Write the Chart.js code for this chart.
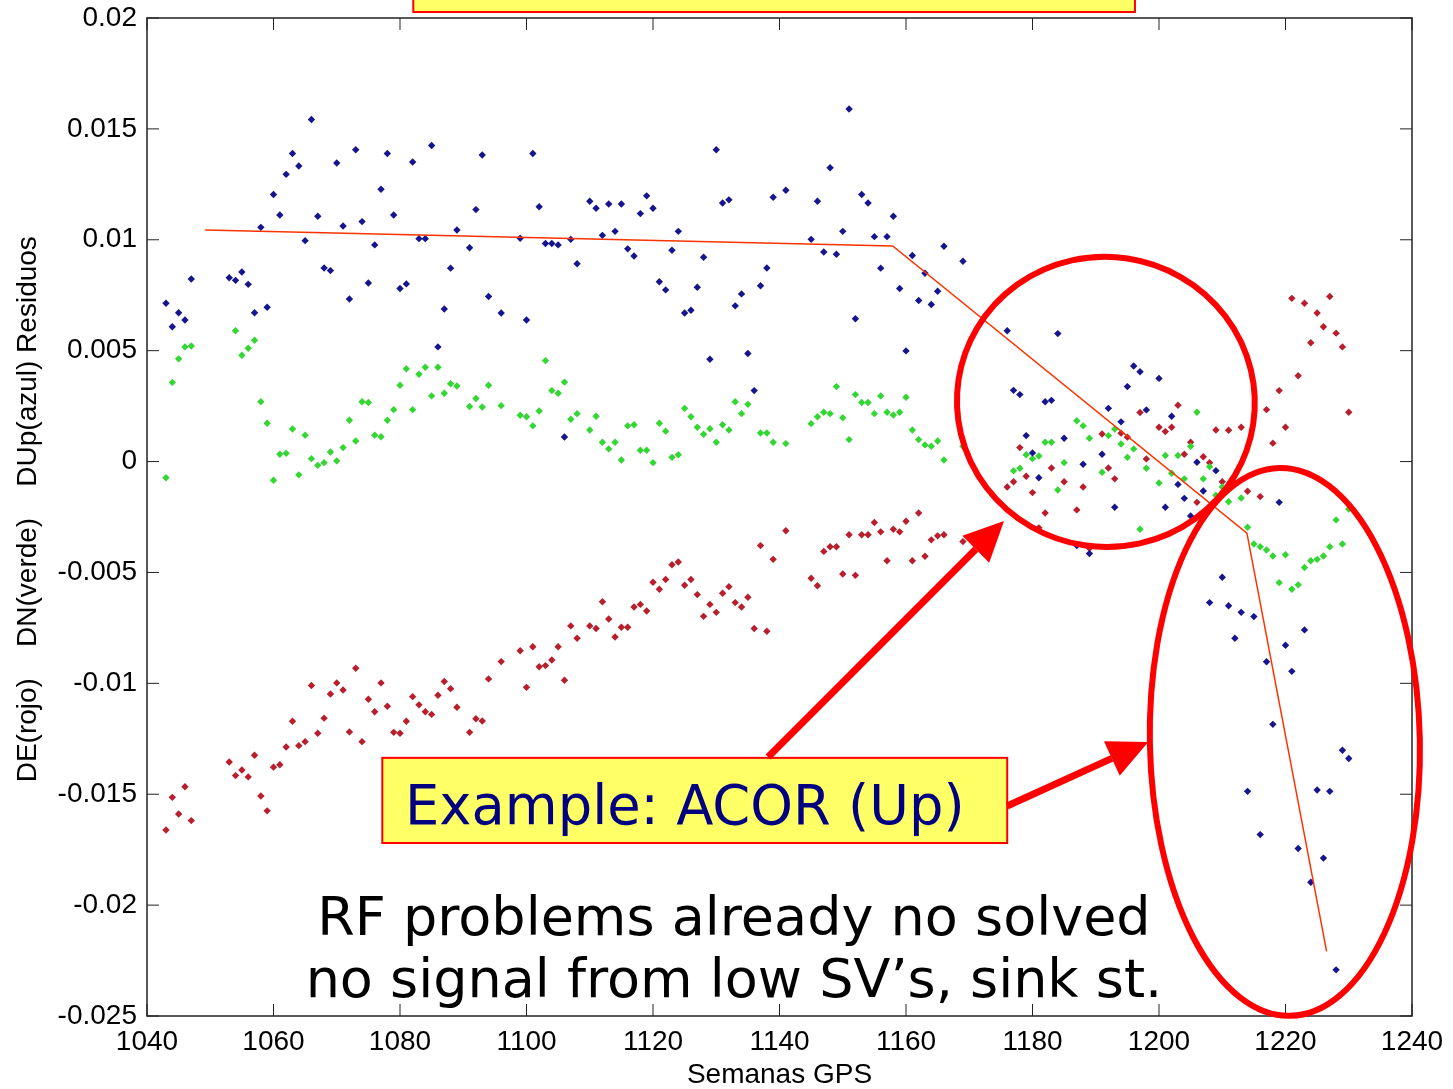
<!DOCTYPE html>
<html>
<head>
<meta charset="utf-8">
<script src="https://cdn.jsdelivr.net/npm/chart.js@4.4.0/dist/chart.umd.min.js"></script>
<style>
  html, body { margin: 0; padding: 0; background: #fff; }
  #contenedor { position: relative; width: 1453px; height: 1089px; }
</style>
</head>
<body>
<div id="contenedor"><canvas id="residuosAcor"></canvas></div>
<script>
// Residuos ACOR por semana GPS
const semanasUp = [1043,1044,1045,1046,1047,1053,1054,1055,1056,1057,1058,1059,1060,1061,1062,1063,1064,1065,1066,1067,1068,1069,1070,1071,1072,1073,1074,1075,1076,1077,1078,1079,1080,1081,1082,1083,1084,1085,1086,1087,1088,1089,1091,1092,1093,1094,1096,1099,1100,1101,1102,1103,1104,1105,1106,1107,1108,1110,1111,1112,1113,1114,1115,1116,1117,1118,1119,1120,1121,1122,1123,1124,1125,1126,1127,1128,1129,1130,1131,1132,1133,1134,1135,1136,1137,1138,1139,1141,1145,1146,1147,1148,1149,1150,1151,1152,1153,1154,1155,1156,1157,1158,1159,1160,1161,1162,1163,1164,1165,1166,1169,1176,1177,1178,1179,1180,1181,1182,1183,1184,1185,1187,1188,1189,1191,1192,1193,1194,1195,1196,1197,1198,1200,1201,1202,1203,1204,1205,1206,1207,1208,1209,1210,1211,1212,1213,1214,1215,1216,1217,1218,1219,1220,1221,1222,1223,1224,1225,1226,1227,1228,1229,1230];
const residuosUp = [0.00714,0.00608,0.00671,0.00638,0.00823,0.00829,0.00817,0.00855,0.00799,0.00671,0.01056,0.00696,0.01204,0.01112,0.01295,0.01389,0.01333,0.00996,0.01542,0.01106,0.00873,0.00861,0.01346,0.01062,0.00733,0.01406,0.01082,0.00805,0.00977,0.01228,0.01389,0.01112,0.00780,0.00801,0.01351,0.01005,0.01005,0.01425,0.00517,0.00688,0.00872,0.01044,0.00964,0.01136,0.01382,0.00744,0.00670,0.01007,0.00638,0.01389,0.01149,0.00983,0.00983,0.00977,0.00111,0.01002,0.00892,0.01174,0.01142,0.01020,0.01161,0.01038,0.01161,0.00959,0.00927,0.01118,0.01198,0.01142,0.00811,0.00774,0.00953,0.01038,0.00670,0.00682,0.00786,0.00921,0.00461,0.01406,0.01166,0.01180,0.00702,0.00756,0.00487,0.00320,0.00793,0.00873,0.01192,0.01223,0.01002,0.01174,0.00945,0.01325,0.00935,0.01038,0.01590,0.00644,0.01204,0.01166,0.01014,0.00872,0.01014,0.01106,0.00780,0.00499,0.00929,0.00726,0.00849,0.00708,0.00768,0.00971,0.00903,0.00590,0.00321,0.00302,0.00117,0.00039,-0.00073,0.00270,0.00276,0.00577,0.00105,-0.00379,-0.00012,-0.00415,0.00033,0.00240,-0.00206,0.00179,0.00338,0.00431,0.00405,0.00233,0.00375,-0.00206,0.00204,-0.00103,-0.00166,-0.00245,-0.00003,-0.00133,-0.00636,-0.00041,-0.00522,-0.00650,-0.00797,-0.00680,-0.01487,-0.00699,-0.01682,-0.00903,-0.01185,-0.00184,-0.00828,-0.00946,-0.01745,-0.00759,-0.01897,-0.01481,-0.01788,-0.01487,-0.02292,-0.01302,-0.01339];

const semanasNorte = [1043,1044,1045,1046,1047,1054,1055,1056,1057,1058,1059,1060,1061,1062,1063,1064,1065,1066,1067,1068,1069,1070,1071,1072,1073,1074,1075,1076,1077,1078,1079,1080,1081,1082,1083,1084,1085,1086,1087,1088,1089,1091,1092,1093,1094,1096,1099,1100,1101,1102,1103,1104,1105,1106,1107,1108,1110,1111,1112,1113,1114,1115,1116,1117,1118,1119,1120,1121,1122,1123,1124,1125,1126,1127,1128,1129,1130,1131,1132,1133,1134,1135,1137,1138,1139,1141,1145,1146,1147,1148,1149,1150,1151,1152,1153,1154,1155,1156,1157,1158,1159,1160,1161,1162,1163,1164,1165,1166,1169,1177,1178,1179,1180,1181,1182,1183,1184,1185,1187,1188,1189,1191,1192,1193,1194,1195,1196,1197,1198,1200,1201,1202,1203,1204,1205,1206,1207,1208,1209,1210,1211,1213,1214,1215,1216,1217,1218,1219,1220,1221,1222,1223,1224,1225,1226,1227,1228,1229,1230];
const residuosNorte = [-0.00073,0.00357,0.00463,0.00517,0.00521,0.00590,0.00479,0.00511,0.00547,0.00270,0.00173,-0.00084,0.00033,0.00037,0.00147,-0.00060,0.00119,0.00013,-0.00017,-0.00005,0.00043,0.00003,0.00063,0.00186,0.00093,0.00270,0.00266,0.00119,0.00112,0.00186,0.00234,0.00344,0.00418,0.00234,0.00394,0.00425,0.00296,0.00425,0.00308,0.00351,0.00341,0.00248,0.00284,0.00246,0.00344,0.00252,0.00209,0.00202,0.00161,0.00228,0.00455,0.00320,0.00308,0.00358,0.00191,0.00216,0.00142,0.00204,0.00087,0.00057,0.00087,0.00007,0.00161,0.00166,0.00051,0.00051,-0.00005,0.00173,0.00137,0.00019,0.00031,0.00240,0.00202,0.00155,0.00123,0.00148,0.00087,0.00166,0.00142,0.00270,0.00216,0.00258,0.00129,0.00129,0.00087,0.00081,0.00171,0.00202,0.00222,0.00216,0.00338,0.00197,0.00099,0.00302,0.00266,0.00266,0.00216,0.00296,0.00222,0.00210,0.00222,0.00290,0.00142,0.00099,0.00075,0.00069,0.00093,0.00007,0.00069,-0.00042,-0.00030,0.00031,0.00013,0.00025,0.00087,0.00087,-0.00128,-0.00005,0.00184,0.00161,0.00105,-0.00048,0.00117,0.00147,0.00079,0.00019,0.00057,-0.00305,-0.00030,-0.00097,0.00027,-0.00053,0.00027,-0.00078,0.00069,0.00222,-0.00078,-0.00023,-0.00152,-0.00115,-0.00181,-0.00164,-0.00296,-0.00372,-0.00384,-0.00399,-0.00426,-0.00546,-0.00420,-0.00576,-0.00556,-0.00478,-0.00447,-0.00441,-0.00426,-0.00384,-0.00263,-0.00372,-0.00214];

const semanasEste = [1043,1044,1045,1046,1047,1053,1054,1055,1056,1057,1058,1059,1060,1061,1062,1063,1064,1065,1066,1067,1068,1069,1070,1071,1072,1073,1074,1075,1076,1077,1078,1079,1080,1081,1082,1083,1084,1085,1086,1087,1088,1089,1091,1092,1093,1094,1096,1099,1100,1101,1102,1103,1104,1105,1106,1107,1108,1110,1111,1112,1113,1114,1115,1116,1117,1118,1119,1120,1121,1122,1123,1124,1125,1126,1127,1128,1129,1130,1131,1132,1133,1134,1135,1136,1137,1138,1139,1141,1145,1146,1147,1148,1149,1150,1151,1152,1153,1154,1155,1156,1157,1158,1159,1160,1161,1162,1163,1164,1165,1166,1169,1176,1177,1178,1179,1180,1181,1182,1183,1185,1187,1188,1189,1191,1192,1193,1194,1195,1197,1198,1200,1201,1202,1203,1204,1205,1206,1207,1208,1209,1210,1211,1212,1213,1214,1216,1217,1218,1219,1220,1221,1222,1223,1224,1225,1226,1227,1228,1229,1230];
const residuosEste = [-0.01661,-0.01514,-0.01589,-0.01466,-0.01619,-0.01355,-0.01416,-0.01391,-0.01422,-0.01324,-0.01508,-0.01575,-0.01378,-0.01367,-0.01287,-0.01171,-0.01281,-0.01263,-0.01010,-0.01225,-0.01157,-0.01048,-0.00998,-0.01030,-0.01219,-0.00932,-0.01263,-0.01072,-0.01128,-0.00998,-0.01103,-0.01221,-0.01225,-0.01171,-0.01060,-0.01097,-0.01128,-0.01140,-0.01054,-0.00992,-0.01024,-0.01108,-0.01221,-0.01160,-0.01170,-0.00980,-0.00902,-0.00853,-0.01018,-0.00835,-0.00925,-0.00920,-0.00895,-0.00835,-0.00986,-0.00741,-0.00797,-0.00741,-0.00753,-0.00632,-0.00710,-0.00791,-0.00747,-0.00747,-0.00656,-0.00644,-0.00674,-0.00544,-0.00576,-0.00532,-0.00465,-0.00453,-0.00558,-0.00532,-0.00600,-0.00698,-0.00644,-0.00680,-0.00594,-0.00564,-0.00636,-0.00656,-0.00612,-0.00753,-0.00379,-0.00765,-0.00441,-0.00312,-0.00526,-0.00560,-0.00405,-0.00384,-0.00384,-0.00507,-0.00330,-0.00513,-0.00330,-0.00330,-0.00275,-0.00317,-0.00447,-0.00305,-0.00317,-0.00269,-0.00447,-0.00232,-0.00427,-0.00353,-0.00335,-0.00330,-0.00361,-0.00115,-0.00091,0.00063,-0.00066,-0.00140,-0.00299,-0.00232,-0.00029,-0.00091,-0.00218,-0.00115,-0.00391,0.00124,-0.00029,-0.00078,0.00128,0.00110,0.00221,0.00012,0.00155,0.00135,0.00155,0.00254,0.00033,0.00087,-0.00184,0.00022,-0.00005,0.00142,-0.00091,0.00141,-0.00097,0.00155,-0.00134,-0.00158,0.00234,0.00083,0.00320,0.00155,0.00736,0.00387,0.00714,0.00536,0.00670,0.00608,0.00744,0.00579,0.00517,0.00222];

// linea de tendencia dibujada a mano en el original
const semanasTendencia = [1049.2, 1157.9, 1213.9, 1226.5];
const residuosTendencia = [0.01044, 0.00972, -0.00323, -0.02209];

const ticksX = [1040, 1060, 1080, 1100, 1120, 1140, 1160, 1180, 1200, 1220, 1240];
const ticksY = [-0.025, -0.02, -0.015, -0.01, -0.005, 0, 0.005, 0.01, 0.015, 0.02];

const textoEjemplo = 'Example: ACOR (Up)';
const textoRF = ['RF problems already no solved', 'no signal from low SV\u2019s, sink st.'];

// anotaciones en unidades de datos (semana, metros)
const anotaciones = {
  recuadroSuperior: { x0: 1082.1, x1: 1196.2, y0: 0.0216, y1: 0.02027 },
  recuadroEjemplo: { x0: 1077.2, x1: 1176.0, y0: -0.01336, y1: -0.01720 },
  ejemplo: { x: 1080.8, y: -0.01634, ancho: 560 },
  rf: { x: 1132.8, y: [-0.02134, -0.02414], ancho: 857 },
  elipses: [
    { x: 1191.6, y: 0.00269, rx: 149, ry: 145, rot: 0.15 },
    { x: 1219.9, y: -0.01264, rx: 135, ry: 274, rot: -0.02 }
  ],
  flechas: [
    { x0: 1138.2, y0: -0.01332, x1: 1175.5, y1: -0.00268 },
    { x0: 1176.0, y0: -0.01553, x1: 1198.3, y1: -0.01264 }
  ]
};

function aPuntos(xs, ys) {
  return xs.map((x, i) => ({ x: x, y: ys[i] }));
}

// marco estilo matlab: caja completa y marcas hacia dentro
const marcoMatlab = {
  id: 'marcoMatlab',
  afterDatasetsDraw(chart) {
    const { ctx, chartArea: a, scales } = chart;
    const largo = 12;
    ctx.save();
    ctx.strokeStyle = '#222';
    ctx.lineWidth = 1.5;
    ctx.strokeRect(a.left, a.top, a.right - a.left, a.bottom - a.top);
    ctx.lineWidth = 1;
    ctx.beginPath();
    ticksX.forEach(v => {
      const p = scales.x.getPixelForValue(v);
      ctx.moveTo(p, a.bottom); ctx.lineTo(p, a.bottom - largo);
      ctx.moveTo(p, a.top); ctx.lineTo(p, a.top + largo);
    });
    ticksY.forEach(v => {
      const p = scales.y.getPixelForValue(v);
      ctx.moveTo(a.left, p); ctx.lineTo(a.left + largo, p);
      ctx.moveTo(a.right, p); ctx.lineTo(a.right - largo, p);
    });
    ctx.stroke();
    ctx.restore();
  }
};

function tamanoParaAncho(ctx, texto, ancho, familia) {
  ctx.font = '100px ' + familia;
  return 100 * ancho / ctx.measureText(texto).width;
}

const notasDiapositiva = {
  id: 'notasDiapositiva',
  afterDraw(chart) {
    const { ctx, scales } = chart;
    const px = v => scales.x.getPixelForValue(v);
    const py = v => scales.y.getPixelForValue(v);
    const fam = '"DejaVu Sans", Verdana, sans-serif';
    ctx.save();

    // recuadros amarillos
    [anotaciones.recuadroSuperior, anotaciones.recuadroEjemplo].forEach(r => {
      const x0 = px(r.x0), x1 = px(r.x1), y0 = py(r.y0), y1 = py(r.y1);
      ctx.fillStyle = '#ffff66';
      ctx.fillRect(x0, y0, x1 - x0, y1 - y0);
      ctx.strokeStyle = '#ff0000';
      ctx.lineWidth = 2;
      ctx.strokeRect(x0, y0, x1 - x0, y1 - y0);
    });

    // texto del ejemplo
    const e = anotaciones.ejemplo;
    const tam1 = tamanoParaAncho(ctx, textoEjemplo, e.ancho, fam);
    ctx.font = tam1.toFixed(1) + 'px ' + fam;
    ctx.fillStyle = '#000080';
    ctx.textAlign = 'left';
    ctx.textBaseline = 'alphabetic';
    ctx.fillText(textoEjemplo, px(e.x), py(e.y));

    // texto RF
    const rf = anotaciones.rf;
    const tam2 = tamanoParaAncho(ctx, textoRF[1], rf.ancho, fam);
    ctx.font = tam2.toFixed(1) + 'px ' + fam;
    ctx.fillStyle = '#000';
    ctx.textAlign = 'center';
    textoRF.forEach((t, i) => ctx.fillText(t, px(rf.x), py(rf.y[i])));

    // elipses rojas
    ctx.strokeStyle = '#ff0000';
    ctx.lineWidth = 6;
    anotaciones.elipses.forEach(el => {
      ctx.beginPath();
      ctx.ellipse(px(el.x), py(el.y), el.rx, el.ry, el.rot, 0, Math.PI * 2);
      ctx.stroke();
    });

    // flechas rojas
    ctx.fillStyle = '#ff0000';
    anotaciones.flechas.forEach(f => {
      const xa = px(f.x0), ya = py(f.y0), xb = px(f.x1), yb = py(f.y1);
      const ang = Math.atan2(yb - ya, xb - xa);
      const cabeza = 40, mitad = 19;
      const xc = xb - cabeza * Math.cos(ang), yc = yb - cabeza * Math.sin(ang);
      ctx.lineWidth = 7;
      ctx.beginPath();
      ctx.moveTo(xa, ya);
      ctx.lineTo(xc, yc);
      ctx.stroke();
      ctx.beginPath();
      ctx.moveTo(xb, yb);
      ctx.lineTo(xc + mitad * Math.sin(ang), yc - mitad * Math.cos(ang));
      ctx.lineTo(xc - mitad * Math.sin(ang), yc + mitad * Math.cos(ang));
      ctx.closePath();
      ctx.fill();
    });
    ctx.restore();
  }
};

const fuenteEjes = { family: '"Liberation Sans", Arial, sans-serif', size: 28 };
const fuenteTitulos = { family: '"Liberation Sans", Arial, sans-serif', size: 28, lineHeight: 1 };

new Chart(document.getElementById('residuosAcor'), {
  type: 'scatter',
  data: {
    datasets: [
      {
        label: 'Tendencia',
        data: aPuntos(semanasTendencia, residuosTendencia),
        showLine: true,
        borderColor: '#ff3300',
        borderWidth: 1.5,
        pointRadius: 0,
        tension: 0
      },
      {
        label: 'DUp',
        data: aPuntos(semanasUp, residuosUp),
        pointStyle: 'rectRot',
        pointRadius: 3.7,
        borderWidth: 0,
        backgroundColor: '#15158e'
      },
      {
        label: 'DN',
        data: aPuntos(semanasNorte, residuosNorte),
        pointStyle: 'rectRot',
        pointRadius: 3.7,
        borderWidth: 0,
        backgroundColor: '#33d633'
      },
      {
        label: 'DE',
        data: aPuntos(semanasEste, residuosEste),
        pointStyle: 'rectRot',
        pointRadius: 3.7,
        borderWidth: 0,
        backgroundColor: '#b81e2c'
      }
    ]
  },
  options: {
    responsive: true,
    maintainAspectRatio: false,
    animation: false,
    events: [],
    layout: { padding: { top: 18, right: 41, left: 0, bottom: 0 } },
    plugins: {
      legend: { display: false },
      tooltip: { enabled: false }
    },
    scales: {
      x: {
        type: 'linear',
        min: 1040,
        max: 1240,
        afterBuildTicks: scale => { scale.ticks = ticksX.map(v => ({ value: v })); },
        afterFit: scale => {
          scale.height = 73;
          scale.paddingLeft = 0;
          scale.paddingRight = 0;
        },
        grid: { display: false, drawTicks: false },
        border: { display: false },
        ticks: { color: '#000', font: fuenteEjes, padding: 9, maxRotation: 0, callback: v => String(v) },
        title: {
          display: true,
          text: 'Semanas GPS',
          color: '#000',
          font: fuenteTitulos,
          padding: { top: 0, bottom: 0 }
        }
      },
      y: {
        type: 'linear',
        min: -0.025,
        max: 0.02,
        afterBuildTicks: scale => { scale.ticks = ticksY.map(v => ({ value: v })); },
        afterFit: scale => {
          scale.width = 147;
          scale.paddingTop = 0;
          scale.paddingBottom = 0;
        },
        grid: { display: false, drawTicks: false },
        border: { display: false },
        ticks: {
          color: '#000',
          font: fuenteEjes,
          padding: 10,
          callback: v => String(Math.round(v * 1000) / 1000)
        },
        title: {
          display: true,
          text: '  DE(rojo)    DN(verde)    DUp(azul) Residuos',
          color: '#000',
          font: fuenteTitulos,
          padding: { top: 14, bottom: 0 }
        }
      }
    }
  },
  plugins: [marcoMatlab, notasDiapositiva]
});
</script>
</body>
</html>
